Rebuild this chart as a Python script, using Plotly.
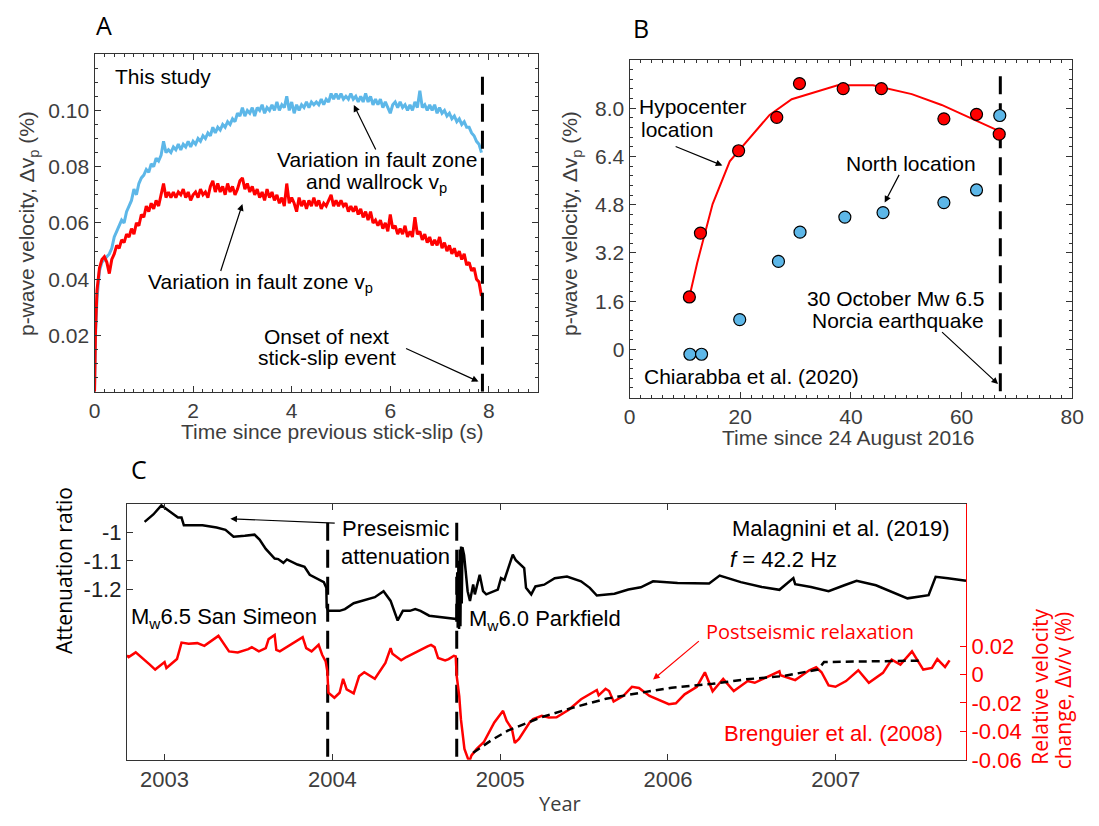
import plotly.graph_objects as go

# ======================= DATA =======================
# ---- Panel A: laboratory stick-slip cycle (This study) ----
a_time = [0.00, 0.02, 0.05, 0.10, 0.15, 0.20, 0.25, 0.30, 0.35, 0.40, 0.45, 0.50, 0.55, 0.60, 0.65, 0.70, 0.75, 0.80, 0.85, 0.90, 0.95,
          1.00, 1.05, 1.10, 1.15, 1.20, 1.25, 1.30, 1.35, 1.40, 1.45, 1.50, 1.55, 1.60, 1.65, 1.70, 1.75, 1.80, 1.85, 1.90, 1.95,
          2.00, 2.05, 2.10, 2.15, 2.20, 2.25, 2.30, 2.35, 2.40, 2.45, 2.50, 2.55, 2.60, 2.65, 2.70, 2.75, 2.80, 2.85, 2.90, 2.95,
          3.00, 3.05, 3.10, 3.15, 3.20, 3.25, 3.30, 3.35, 3.40, 3.45, 3.50, 3.55, 3.60, 3.65, 3.70, 3.75, 3.80, 3.85, 3.90, 3.95,
          4.00, 4.05, 4.10, 4.15, 4.20, 4.25, 4.30, 4.35, 4.40, 4.45, 4.50, 4.55, 4.60, 4.65, 4.70, 4.75, 4.80, 4.85, 4.90, 4.95,
          5.00, 5.05, 5.10, 5.15, 5.20, 5.25, 5.30, 5.35, 5.40, 5.45, 5.50, 5.55, 5.60, 5.65, 5.70, 5.75, 5.80, 5.85, 5.90, 5.95,
          6.00, 6.05, 6.10, 6.15, 6.20, 6.25, 6.30, 6.35, 6.40, 6.45, 6.50, 6.55, 6.60, 6.65, 6.70, 6.75, 6.80, 6.85, 6.90, 6.95,
          7.00, 7.05, 7.10, 7.15, 7.20, 7.25, 7.30, 7.35, 7.40, 7.45, 7.50, 7.55, 7.60, 7.65, 7.70, 7.75, 7.80,
          7.85]
a_fault_vp = [0.000, 0.022, 0.036, 0.044, 0.047, 0.048, 0.046, 0.042, 0.047, 0.049, 0.052, 0.051, 0.054, 0.053, 0.056, 0.055, 0.058, 0.056, 0.060, 0.059, 0.063,
              0.062, 0.066, 0.064, 0.067, 0.065, 0.068, 0.066, 0.070, 0.074, 0.069, 0.071, 0.069, 0.071, 0.069, 0.071, 0.070, 0.072, 0.069, 0.071, 0.068,
              0.070, 0.071, 0.069, 0.072, 0.070, 0.071, 0.069, 0.073, 0.075, 0.071, 0.074, 0.071, 0.073, 0.070, 0.074, 0.071, 0.073, 0.070, 0.072, 0.075,
              0.076, 0.072, 0.074, 0.071, 0.073, 0.070, 0.072, 0.069, 0.071, 0.068, 0.072, 0.069, 0.071, 0.068, 0.070, 0.067, 0.069, 0.066, 0.074, 0.067,
              0.069, 0.067, 0.064, 0.069, 0.066, 0.068, 0.065, 0.068, 0.066, 0.069, 0.066, 0.068, 0.065, 0.067, 0.066, 0.068, 0.070, 0.066, 0.068, 0.066,
              0.068, 0.066, 0.067, 0.064, 0.066, 0.064, 0.066, 0.063, 0.065, 0.062, 0.064, 0.061, 0.064, 0.060, 0.061, 0.059, 0.061, 0.058, 0.060, 0.057,
              0.063, 0.058, 0.059, 0.056, 0.058, 0.056, 0.059, 0.055, 0.057, 0.055, 0.062, 0.056, 0.057, 0.054, 0.056, 0.053, 0.055, 0.052, 0.054, 0.052,
              0.055, 0.051, 0.053, 0.050, 0.052, 0.049, 0.051, 0.048, 0.050, 0.047, 0.049, 0.045, 0.046, 0.043, 0.044, 0.040, 0.039,
              0.034]
a_wall_vp = [0.000, 0.020, 0.033, 0.043, 0.046, 0.047, 0.048, 0.049, 0.051, 0.055, 0.057, 0.059, 0.061, 0.060, 0.064, 0.066, 0.068, 0.072, 0.070, 0.074, 0.076,
             0.077, 0.079, 0.078, 0.081, 0.080, 0.083, 0.082, 0.084, 0.089, 0.085, 0.086, 0.085, 0.087, 0.086, 0.088, 0.086, 0.088, 0.087, 0.089, 0.087,
             0.089, 0.088, 0.090, 0.089, 0.091, 0.090, 0.092, 0.091, 0.094, 0.092, 0.094, 0.093, 0.095, 0.094, 0.096, 0.095, 0.097, 0.096, 0.099, 0.098,
             0.101, 0.098, 0.100, 0.099, 0.101, 0.098, 0.101, 0.100, 0.102, 0.099, 0.101, 0.100, 0.102, 0.100, 0.103, 0.100, 0.102, 0.101, 0.105, 0.100,
             0.103, 0.099, 0.102, 0.100, 0.102, 0.101, 0.103, 0.101, 0.103, 0.102, 0.103, 0.102, 0.104, 0.102, 0.104, 0.103, 0.106, 0.104, 0.106, 0.104,
             0.106, 0.104, 0.105, 0.104, 0.106, 0.104, 0.105, 0.103, 0.105, 0.103, 0.106, 0.103, 0.105, 0.102, 0.104, 0.102, 0.104, 0.101, 0.103, 0.101,
             0.099, 0.102, 0.103, 0.101, 0.103, 0.101, 0.102, 0.100, 0.102, 0.100, 0.103, 0.101, 0.107, 0.101, 0.102, 0.100, 0.102, 0.100, 0.102, 0.099,
             0.101, 0.099, 0.100, 0.098, 0.099, 0.097, 0.098, 0.096, 0.097, 0.095, 0.096, 0.094, 0.094, 0.092, 0.091, 0.089, 0.088,
             0.085]
a_onset_time = 7.87

# ---- Panel B: Chiarabba et al. (2020) ----
b_days_hypo = [10.8, 12.8, 19.7, 26.6, 30.7, 38.6, 45.5, 56.8, 62.7, 66.8]
b_vp_hypo = [1.74, 3.86, 6.59, 7.70, 8.82, 8.65, 8.65, 7.65, 7.80, 7.14]
b_days_north = [10.9, 13.0, 19.9, 26.9, 30.8, 38.9, 45.8, 56.8, 62.7, 66.9]
b_vp_north = [-0.16, -0.16, 0.99, 2.92, 3.89, 4.39, 4.54, 4.87, 5.29, 7.76]
b_fit_days = [10.8, 12.2, 15.0, 18.1, 19.7, 25.3, 29.3, 37.6, 44.0, 51.0, 56.4, 66.8]
b_fit_vp = [1.74, 2.86, 4.82, 6.24, 6.59, 7.78, 8.30, 8.76, 8.76, 8.47, 8.11, 7.24]
b_norcia_day = 67.0

# ---- Panel C: Malagnini et al. (2019) attenuation, Brenguier et al. (2008) dv/v ----
c_att_year = [2002.881, 2002.933, 2002.981, 2003.038, 2003.080, 2003.101, 2003.115, 2003.226, 2003.310, 2003.363,
              2003.411, 2003.478, 2003.536, 2003.566, 2003.603, 2003.656, 2003.677, 2003.708, 2003.729, 2003.792,
              2003.834, 2003.865, 2003.907, 2003.949, 2003.964, 2003.966, 2003.976, 2004.043, 2004.075, 2004.127,
              2004.253, 2004.305, 2004.347, 2004.389, 2004.420, 2004.462, 2004.494, 2004.525, 2004.577, 2004.734,
              2004.741, 2004.744, 2004.747, 2004.751, 2004.755, 2004.759, 2004.763, 2004.767, 2004.771, 2004.775,
              2004.785, 2004.806, 2004.820, 2004.839, 2004.849, 2004.878, 2004.898, 2004.917, 2004.986, 2005.005,
              2005.025, 2005.075, 2005.093, 2005.143, 2005.154, 2005.185, 2005.210, 2005.262, 2005.325, 2005.398,
              2005.482, 2005.534, 2005.576, 2005.681, 2005.764, 2005.838, 2005.911, 2006.057, 2006.245, 2006.308,
              2006.434, 2006.559, 2006.664, 2006.747, 2006.758, 2006.852, 2006.957, 2007.051, 2007.124, 2007.239,
              2007.333, 2007.427, 2007.553, 2007.595, 2007.668, 2007.776]
c_att_ratio = [-0.963, -0.937, -0.905, -0.931, -0.948, -0.948, -0.975, -0.975, -0.983, -0.991,
               -1.015, -1.012, -1.008, -1.025, -1.058, -1.092, -1.094, -1.107, -1.095, -1.113,
               -1.121, -1.149, -1.161, -1.175, -1.195, -1.264, -1.276, -1.276, -1.270, -1.249,
               -1.228, -1.207, -1.241, -1.310, -1.276, -1.276, -1.270, -1.276, -1.293, -1.305,
               -1.305, -1.140, -1.335, -1.100, -1.340, -1.060, -1.330, -1.050, -1.250, -1.052,
               -1.080, -1.207, -1.241, -1.183, -1.218, -1.149, -1.207, -1.218, -1.201, -1.161,
               -1.167, -1.078, -1.098, -1.126, -1.195, -1.218, -1.190, -1.184, -1.161, -1.155,
               -1.172, -1.195, -1.222, -1.216, -1.201, -1.193, -1.172, -1.178, -1.180, -1.152,
               -1.175, -1.192, -1.202, -1.161, -1.182, -1.192, -1.207, -1.186, -1.170, -1.186,
               -1.209, -1.232, -1.221, -1.156, -1.161, -1.170]
c_dvv_year = [2002.776, 2002.786, 2002.828, 2002.870, 2002.912, 2002.944, 2002.986, 2003.000, 2003.011, 2003.074,
              2003.101, 2003.143, 2003.195, 2003.237, 2003.321, 2003.384, 2003.436, 2003.499, 2003.520, 2003.562,
              2003.603, 2003.620, 2003.656, 2003.666, 2003.687, 2003.750, 2003.823, 2003.844, 2003.876, 2003.918,
              2003.939, 2003.960, 2003.970, 2003.976, 2004.012, 2004.043, 2004.064, 2004.085, 2004.127, 2004.159,
              2004.190, 2004.253, 2004.316, 2004.347, 2004.358, 2004.410, 2004.441, 2004.567, 2004.588, 2004.609,
              2004.630, 2004.672, 2004.693, 2004.724, 2004.735, 2004.741, 2004.756, 2004.766, 2004.777, 2004.787,
              2004.808, 2004.818, 2004.829, 2004.860, 2004.902, 2004.965, 2005.017, 2005.038, 2005.070, 2005.087,
              2005.112, 2005.175, 2005.196, 2005.248, 2005.290, 2005.336, 2005.409, 2005.482, 2005.576, 2005.587,
              2005.628, 2005.649, 2005.676, 2005.733, 2005.785, 2005.827, 2005.890, 2006.005, 2006.047, 2006.099,
              2006.172, 2006.220, 2006.266, 2006.329, 2006.392, 2006.475, 2006.517, 2006.664, 2006.670, 2006.758,
              2006.842, 2006.883, 2006.915, 2006.957, 2006.998, 2007.061, 2007.134, 2007.197, 2007.281, 2007.333,
              2007.385, 2007.454, 2007.521, 2007.573, 2007.605, 2007.651, 2007.678]
c_dvv = [0.0135, 0.0123, 0.0156, 0.0116, 0.0070, 0.0035, 0.0070, 0.0088, 0.0046, 0.0109,
         0.0225, 0.0216, 0.0221, 0.0202, 0.0272, 0.0163, 0.0156, 0.0179, 0.0193, 0.0163,
         0.0186, 0.0249, 0.0279, 0.0174, 0.0163, 0.0209, 0.0263, 0.0186, 0.0163, 0.0209,
         0.0139, 0.0093, 0.0023, -0.0128, -0.0163, -0.0128, -0.0030, -0.0104, -0.0132, -0.0012,
         0.0016, -0.0030, 0.0081, 0.0186, 0.0146, 0.0100, 0.0123, 0.0198, 0.0209, 0.0193,
         0.0116, 0.0100, 0.0109, 0.0132, 0.0128, -0.0012, -0.0151, -0.0314, -0.0430, -0.0523,
         -0.0592, -0.0605, -0.0569, -0.0523, -0.0476, -0.0337, -0.0255, -0.0325, -0.0383, -0.0481,
         -0.0453, -0.0337, -0.0314, -0.0290, -0.0302, -0.0300, -0.0248, -0.0174, -0.0109, -0.0146,
         -0.0100, -0.0116, -0.0190, -0.0151, -0.0086, -0.0095, -0.0151, -0.0209, -0.0202, -0.0139,
         -0.0086, 0.0016, -0.0118, -0.0030, -0.0116, -0.0046, -0.0058, 0.0023, -0.0005, -0.0039,
         0.0030, 0.0051, 0.0016, -0.0076, -0.0086, -0.0046, 0.0030, -0.0058, 0.0012, 0.0105,
         0.0070, 0.0163, 0.0035, 0.0047, 0.0109, 0.0053, 0.0100]
c_fit_year = [2004.839, 2004.950, 2005.045, 2005.240, 2005.436, 2005.631, 2005.826, 2006.022, 2006.266, 2006.452,
              2006.685, 2006.894, 2006.930, 2007.200, 2007.500]
c_fit_dvv = [-0.0550, -0.0460, -0.0395, -0.0302, -0.0232, -0.0170, -0.0130, -0.0093, -0.0065, -0.0035,
             -0.0011, 0.0035, 0.0088, 0.0092, 0.0098]
c_san_simeon = 2003.972
c_parkfield = 2004.741

# ======================= STYLE =======================
W, H = 1099, 826


def fx(p):
    return p / W


def fy(p):
    return 1 - p / H


GREY = "#3d3d3d"
AX = "#333333"
RED = "#ff0000"
BLUE = "#5db7e8"
HELV = "Liberation Sans, Arial, Helvetica, sans-serif"
MYR = "Open Sans, Noto Sans, sans-serif"
TICKF = dict(family=HELV, size=21, color=GREY)
DASH = "18px,9px"

fig = go.Figure()

# ---- Panel A ----
fig.add_trace(go.Scatter(x=a_time, y=a_wall_vp, mode="lines", line=dict(color=BLUE, width=3),
                         xaxis="x", yaxis="y", showlegend=False))
fig.add_trace(go.Scatter(x=a_time, y=a_fault_vp, mode="lines", line=dict(color=RED, width=3),
                         xaxis="x", yaxis="y", showlegend=False))
fig.add_trace(go.Scatter(x=[a_onset_time, a_onset_time], y=[0.0, 0.1148], mode="lines",
                         line=dict(color="black", width=3, dash=DASH), xaxis="x", yaxis="y", showlegend=False))

# ---- Panel B ----
fig.add_trace(go.Scatter(x=[b_norcia_day, b_norcia_day], y=[-1.39, 9.33], mode="lines",
                         line=dict(color="black", width=3, dash=DASH), xaxis="x2", yaxis="y2", showlegend=False))
fig.add_trace(go.Scatter(x=b_fit_days, y=b_fit_vp, mode="lines", line=dict(color=RED, width=2),
                         xaxis="x2", yaxis="y2", showlegend=False))
fig.add_trace(go.Scatter(x=b_days_hypo, y=b_vp_hypo, mode="markers",
                         marker=dict(color=RED, size=12, line=dict(color="black", width=1.2)),
                         xaxis="x2", yaxis="y2", showlegend=False))
fig.add_trace(go.Scatter(x=b_days_north, y=b_vp_north, mode="markers",
                         marker=dict(color=BLUE, size=12, line=dict(color="black", width=1.2)),
                         xaxis="x2", yaxis="y2", showlegend=False))

# ---- Panel C ----
fig.add_trace(go.Scatter(x=c_dvv_year, y=c_dvv, mode="lines", line=dict(color=RED, width=2.5),
                         xaxis="x3", yaxis="y4", showlegend=False))
fig.add_trace(go.Scatter(x=c_fit_year, y=c_fit_dvv, mode="lines", line=dict(color="black", width=2.5, dash="8px,5px"),
                         xaxis="x3", yaxis="y4", showlegend=False))
fig.add_trace(go.Scatter(x=c_att_year, y=c_att_ratio, mode="lines", line=dict(color="black", width=2.5),
                         xaxis="x3", yaxis="y3", showlegend=False))
for ev in (c_san_simeon, c_parkfield):
    fig.add_trace(go.Scatter(x=[ev, ev], y=[-0.966, -1.8], mode="lines",
                             line=dict(color="black", width=3, dash=DASH), xaxis="x3", yaxis="y3", showlegend=False))

common = dict(showline=True, linecolor=AX, linewidth=1.2, ticks="inside", ticklen=6, tickwidth=1.2,
              tickcolor=AX, showgrid=False, zeroline=False, tickfont=TICKF)
minor_style = dict(ticks="inside", ticklen=3, tickwidth=1, tickcolor=AX, tickmode="linear", tick0=0)

fig.update_layout(
    width=W, height=H, margin=dict(l=0, r=0, t=0, b=0),
    paper_bgcolor="white", plot_bgcolor="white", showlegend=False,
    xaxis=dict(domain=[fx(90), fx(541)], range=[0, 9], anchor="y", mirror="ticks",
               tickvals=[0, 2, 4, 6, 8], ticktext=["0", "2", "4", "6", "8"],
               minor=dict(dtick=0.2, **minor_style), **common),
    yaxis=dict(domain=[fy(398), fy(55)], range=[0, 0.12], anchor="x", mirror="ticks",
               tickvals=[0.02, 0.04, 0.06, 0.08, 0.10], ticktext=["0.02", "0.04", "0.06", "0.08", "0.10"],
               minor=dict(dtick=0.005, **minor_style), **common),
    xaxis2=dict(domain=[fx(634), fx(1084)], range=[0, 80], anchor="y2", mirror="ticks",
                tickvals=[0, 20, 40, 60, 80], minor=dict(dtick=2, **minor_style), **common),
    yaxis2=dict(domain=[fy(404), fy(61)], range=[-1.6, 9.6], anchor="x2", mirror="ticks",
                tickvals=[0, 1.6, 3.2, 4.8, 6.4, 8.0], ticktext=["0", "1.6", "3.2", "4.8", "6.4", "8.0"],
                minor=dict(dtick=0.32, **minor_style), **common),
    xaxis3=dict(domain=[fx(123), fx(976)], range=[2002.776, 2007.776], anchor="y3", mirror="ticks",
                tickvals=[2003, 2004, 2005, 2006, 2007], ticktext=["2003", "2004", "2005", "2006", "2007"],
                **{**common, "tickfont": dict(family=HELV, size=22, color=GREY)}),
    yaxis3=dict(domain=[fy(772), fy(512)], range=[-1.8, -0.9], anchor="x3",
                tickvals=[-1.2, -1.1, -1.0], ticktext=["-1.2", "-1.1", "-1"],
                **{**common, "tickfont": dict(family=HELV, size=22, color="#222222")}),
    yaxis4=dict(overlaying="y3", side="right", anchor="x3", range=[-0.06, 0.12],
                tickvals=[-0.06, -0.04, -0.02, 0, 0.02], ticktext=["-0.06", "-0.04", "-0.02", "0", "0.02"],
                showline=True, linecolor=RED, linewidth=1.2, ticks="inside", ticklen=6, tickwidth=1.2,
                tickcolor=RED, showgrid=False, zeroline=False, tickfont=dict(family=HELV, size=22, color=RED)),
)

ann = []


def txt(x, y, s, size=21, color="black", family=HELV, xanchor="center", angle=0):
    ann.append(dict(x=fx(x), y=fy(y), xref="paper", yref="paper", text=s, showarrow=False,
                    xanchor=xanchor, yanchor="middle", textangle=angle, borderpad=0,
                    font=dict(family=family, size=size, color=color)))


def arrow(xh, yh, xt, yt, xr, yr, color="black"):
    ann.append(dict(x=xh, y=yh, ax=xt, ay=yt, xref=xr, yref=yr, axref=xr, ayref=yr, text="",
                    showarrow=True, arrowhead=2, arrowsize=1.1, arrowwidth=1.2, arrowcolor=color,
                    standoff=0, startstandoff=0))


# Panel A text
txt(100, 25, "A", size=25, family=MYR)
txt(110, 78, "This study", xanchor="left")
txt(377, 162, "Variation in fault zone")
txt(377, 186, "and wallrock v<sub>p</sub>")
txt(143, 288, "Variation in fault zone v<sub>p</sub>", xanchor="left")
txt(326, 342, "Onset of next")
txt(326, 363, "stick-slip event")
txt(332, 438, "Time since previous stick-slip (s)", color=GREY)
txt(23, 227, "p-wave velocity, Δv<sub>p</sub> (%)", color=GREY, angle=-90)
arrow(5.26, 0.1019, 5.72, 0.0856, "x", "y")
arrow(3.00, 0.0667, 2.55, 0.0424, "x", "y")
arrow(7.79, 0.0036, 6.29, 0.0156, "x", "y")

# Panel B text
txt(646, 28, "B", size=25, family=MYR)
txt(643, 108, "Hypocenter", xanchor="left")
txt(645, 132, "location", xanchor="left")
txt(920, 166, "North location")
txt(995, 303, "30 October Mw 6.5", xanchor="right")
txt(995, 326, "Norcia earthquake", xanchor="right")
txt(758, 383, "Chiarabba et al. (2020)")
txt(857, 444, "Time since 24 August 2016", color=GREY)
txt(575, 227, "p-wave velocity, Δv<sub>p</sub> (%)", color=GREY, angle=-90)
arrow(16.77, 6.10, 8.05, 6.75, "x2", "y2")
arrow(46.1, 4.87, 48.85, 5.84, "x2", "y2")
arrow(66.6, -1.15, 56.2, 0.62, "x2", "y2")

# Panel C text
txt(135, 477, "C", size=25, family=MYR)
txt(59, 580, "Attenuation ratio", size=21, family=MYR, angle=-90)
txt(396, 537, "Preseismic", size=22)
txt(396, 565, "attenuation", size=22)
txt(126, 628, "M<sub>w</sub>6.5 San Simeon", size=22, xanchor="left")
txt(470, 630, "M<sub>w</sub>6.0 Parkfield", size=22, xanchor="left")
txt(961, 537, "Malagnini et al. (2019)", size=22, xanchor="right")
txt(735, 568, "<i>f</i> = 42.2 Hz", size=22, xanchor="left")
txt(817, 642, "Postseismic relaxation", size=20, color=RED, family=MYR)
txt(954, 745, "Brenguier et al. (2008)", size=22, color=RED, xanchor="right")
txt(1051, 698, "Relative velocity", size=21, color=RED, family=MYR, angle=-90)
txt(1075, 701, "change, Δv/v (%)", size=21, color=RED, family=MYR, angle=-90)
txt(563, 816, "Year", size=20, color=GREY, family=MYR)
arrow(2003.392, -0.952, 2004.023, -0.968, "x3", "y3")
arrow(2005.911, -0.0035, 2006.193, 0.0244, "x3", "y4", color=RED)

fig.update_layout(annotations=ann)
fig.write_html("out.html")
